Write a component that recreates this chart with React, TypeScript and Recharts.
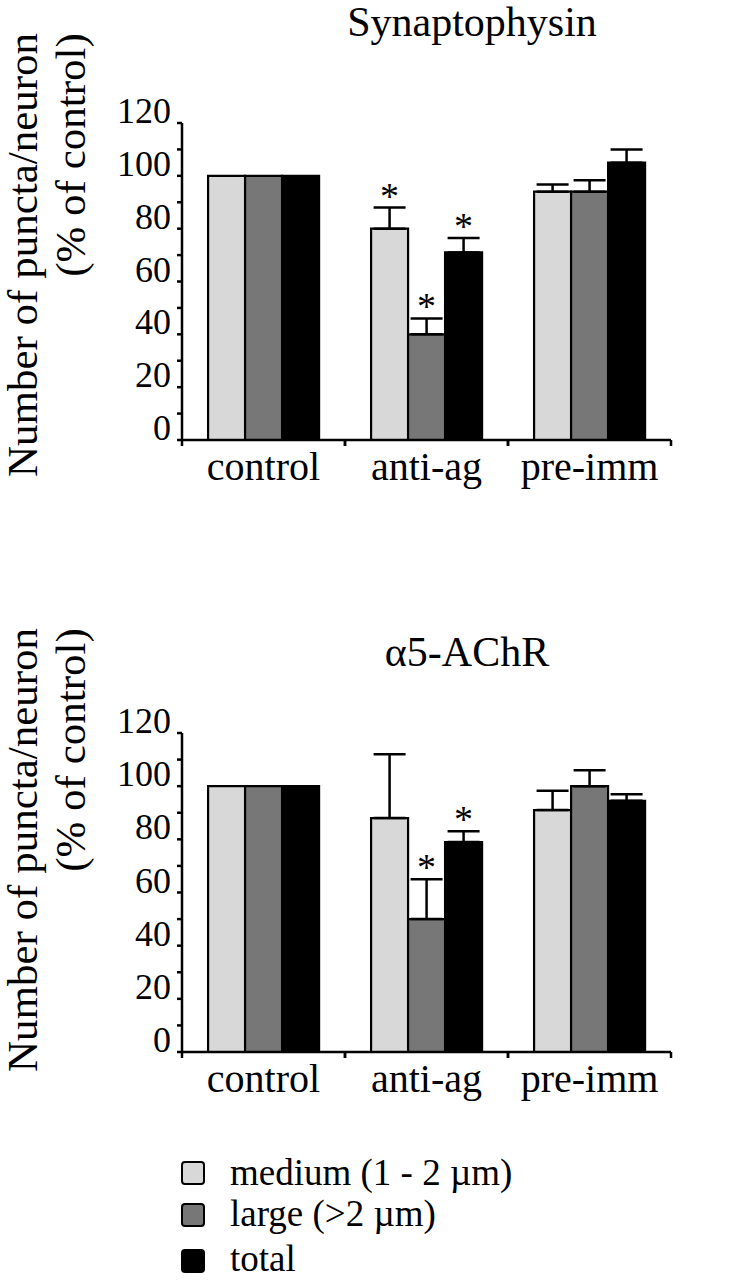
import React from "react";
import { BarChart, Bar, XAxis, YAxis, ErrorBar, LabelList } from "recharts";

const FONT = "'Liberation Serif', 'Times New Roman', serif";

const groups = ["control", "anti-ag", "pre-imm"];
const seriesNames = ["medium (1 - 2 \u00b5m)", "large (>2 \u00b5m)", "total"];
const seriesColors = ["#d8d8d8", "#777777", "#000000"];
const yTicks = [0, 10, 20, 30, 40, 50, 60, 70, 80, 90, 100, 110, 120];

// Synaptophysin
const synMedium = [100, 80, 94];
const synLarge = [100, 40, 94];
const synTotal = [100, 71, 105];
const synMediumErr = [null, 8, 2.7];
const synLargeErr = [null, 6, 4.3];
const synTotalErr = [null, 5.5, 5];
const synMediumSig = [false, true, false];
const synLargeSig = [false, true, false];
const synTotalSig = [false, true, false];

// alpha5-AChR
const achMedium = [100, 88, 91];
const achLarge = [100, 50, 100];
const achTotal = [100, 79, 94.5];
const achMediumErr = [null, 24, 7.3];
const achLargeErr = [null, 15, 6];
const achTotalErr = [null, 4, 2.5];
const achMediumSig = [false, false, false];
const achLargeSig = [false, true, false];
const achTotalSig = [false, true, false];

const buildRows = (vals: number[][], errs: (number | null)[][]) =>
  groups.map((g, i) => ({
    name: g,
    m: vals[0][i],
    l: vals[1][i],
    t: vals[2][i],
    mErr: errs[0][i] == null ? null : [0, errs[0][i]],
    lErr: errs[1][i] == null ? null : [0, errs[1][i]],
    tErr: errs[2][i] == null ? null : [0, errs[2][i]],
  }));

const synRows = buildRows(
  [synMedium, synLarge, synTotal],
  [synMediumErr, synLargeErr, synTotalErr]
);
const achRows = buildRows(
  [achMedium, achLarge, achTotal],
  [achMediumErr, achLargeErr, achTotalErr]
);

const star = (err: (number | null)[], sig: boolean[]) => (props: any) => {
  const { x, y, width, height, value, index } = props;
  if (!sig[index]) return null;
  const e = err[index] ?? 0;
  const top = y - (e * height) / value;
  return (
    <text
      x={x + width / 2}
      y={top + 1}
      textAnchor="middle"
      fontSize={38}
      fontFamily={FONT}
      fill="#000"
    >
      *
    </text>
  );
};

const YTick = (props: any) => {
  const { x, y, payload } = props;
  if (payload.value % 20 !== 0) return null;
  return (
    <text x={x} y={y} textAnchor="end" fontSize={36} fontFamily={FONT} fill="#000">
      {payload.value}
    </text>
  );
};

const XTick = (props: any) => {
  const { x, y, payload } = props;
  const off = payload.offset ?? 0;
  return (
    <g>
      <line x1={x - off} x2={x - off} y1={y - 6} y2={y} stroke="#000" strokeWidth={2.5} />
      <line x1={x + off} x2={x + off} y1={y - 6} y2={y} stroke="#000" strokeWidth={2.5} />
      <text x={x} y={y + 34} textAnchor="middle" fontSize={40} fontFamily={FONT} fill="#000">
        {payload.value}
      </text>
    </g>
  );
};

const Panel = ({
  rows,
  errs,
  sigs,
  top,
  marginTop,
  marginBottom,
}: {
  rows: any[];
  errs: (number | null)[][];
  sigs: boolean[][];
  top: number;
  marginTop: number;
  marginBottom: number;
}) => {
  const keys = ["m", "l", "t"];
  return (
    <div style={{ position: "absolute", left: 0, top }}>
      <BarChart
        width={742}
        height={540}
        data={rows}
        margin={{ top: marginTop, right: 71, bottom: marginBottom, left: 122 }}
        barCategoryGap="16%"
        barGap={0}
      >
        <XAxis
          dataKey="name"
          stroke="#000"
          strokeWidth={2.5}
          tickLine={false}
          tickSize={6}
          tickMargin={0}
          height={50}
          tick={<XTick />}
          interval={0}
        />
        <YAxis
          domain={[0, 120]}
          ticks={yTicks}
          interval={0}
          width={60}
          stroke="#000"
          strokeWidth={2.5}
          tickSize={5}
          tickMargin={6}
          tick={<YTick />}
        />
        {keys.map((k, i) => (
          <Bar
            key={k}
            dataKey={k}
            name={seriesNames[i]}
            fill={seriesColors[i]}
            stroke="#000"
            strokeWidth={2.2}
            isAnimationActive={false}
          >
            <ErrorBar
              dataKey={k + "Err"}
              direction="y"
              width={16}
              stroke="#000"
              strokeWidth={2.5}
              isAnimationActive={false}
            />
            <LabelList dataKey={k} content={star(errs[i], sigs[i])} />
          </Bar>
        ))}
      </BarChart>
    </div>
  );
};

const YLabel = ({ cy1, cy2 }: { cy1: number; cy2: number }) => (
  <>
    <text
      x={37}
      y={cy1}
      transform={`rotate(-90, 37, ${cy1})`}
      textAnchor="middle"
      fontSize={43}
      fontFamily={FONT}
      fill="#000"
    >
      Number of puncta/neuron
    </text>
    <text
      x={85}
      y={cy2}
      transform={`rotate(-90, 85, ${cy2})`}
      textAnchor="middle"
      fontSize={43}
      fontFamily={FONT}
      fill="#000"
    >
      (% of control)
    </text>
  </>
);

const legendCenters = [1173, 1215, 1261];
const legendBaselines = [1185, 1226, 1271];

export default function App() {
  return (
    <div style={{ position: "absolute", left: 0, top: 0, width: 742, height: 1280, background: "#fff" }}>
      <Panel
        rows={synRows}
        errs={[synMediumErr, synLargeErr, synTotalErr]}
        sigs={[synMediumSig, synLargeSig, synTotalSig]}
        top={0}
        marginTop={123}
        marginBottom={50}
      />
      <Panel
        rows={achRows}
        errs={[achMediumErr, achLargeErr, achTotalErr]}
        sigs={[achMediumSig, achLargeSig, achTotalSig]}
        top={610}
        marginTop={123}
        marginBottom={48}
      />
      <svg
        width={742}
        height={1280}
        style={{ position: "absolute", left: 0, top: 0, pointerEvents: "none" }}
      >
        <text x={472} y={36} textAnchor="middle" fontSize={42} fontFamily={FONT} fill="#000">
          Synaptophysin
        </text>
        <text x={467} y={666} textAnchor="middle" fontSize={42} fontFamily={FONT} fill="#000">
          {"\u03b15-AChR"}
        </text>
        <YLabel cy1={255} cy2={155} />
        <YLabel cy1={850} cy2={750} />
        {seriesNames.map((n, i) => (
          <g key={n}>
            <rect
              x={182}
              y={legendCenters[i] - 11}
              width={22}
              height={22}
              rx={3}
              fill={seriesColors[i]}
              stroke="#000"
              strokeWidth={2}
            />
            <text x={230} y={legendBaselines[i]} fontSize={37} fontFamily={FONT} fill="#000">
              {n}
            </text>
          </g>
        ))}
      </svg>
    </div>
  );
}
